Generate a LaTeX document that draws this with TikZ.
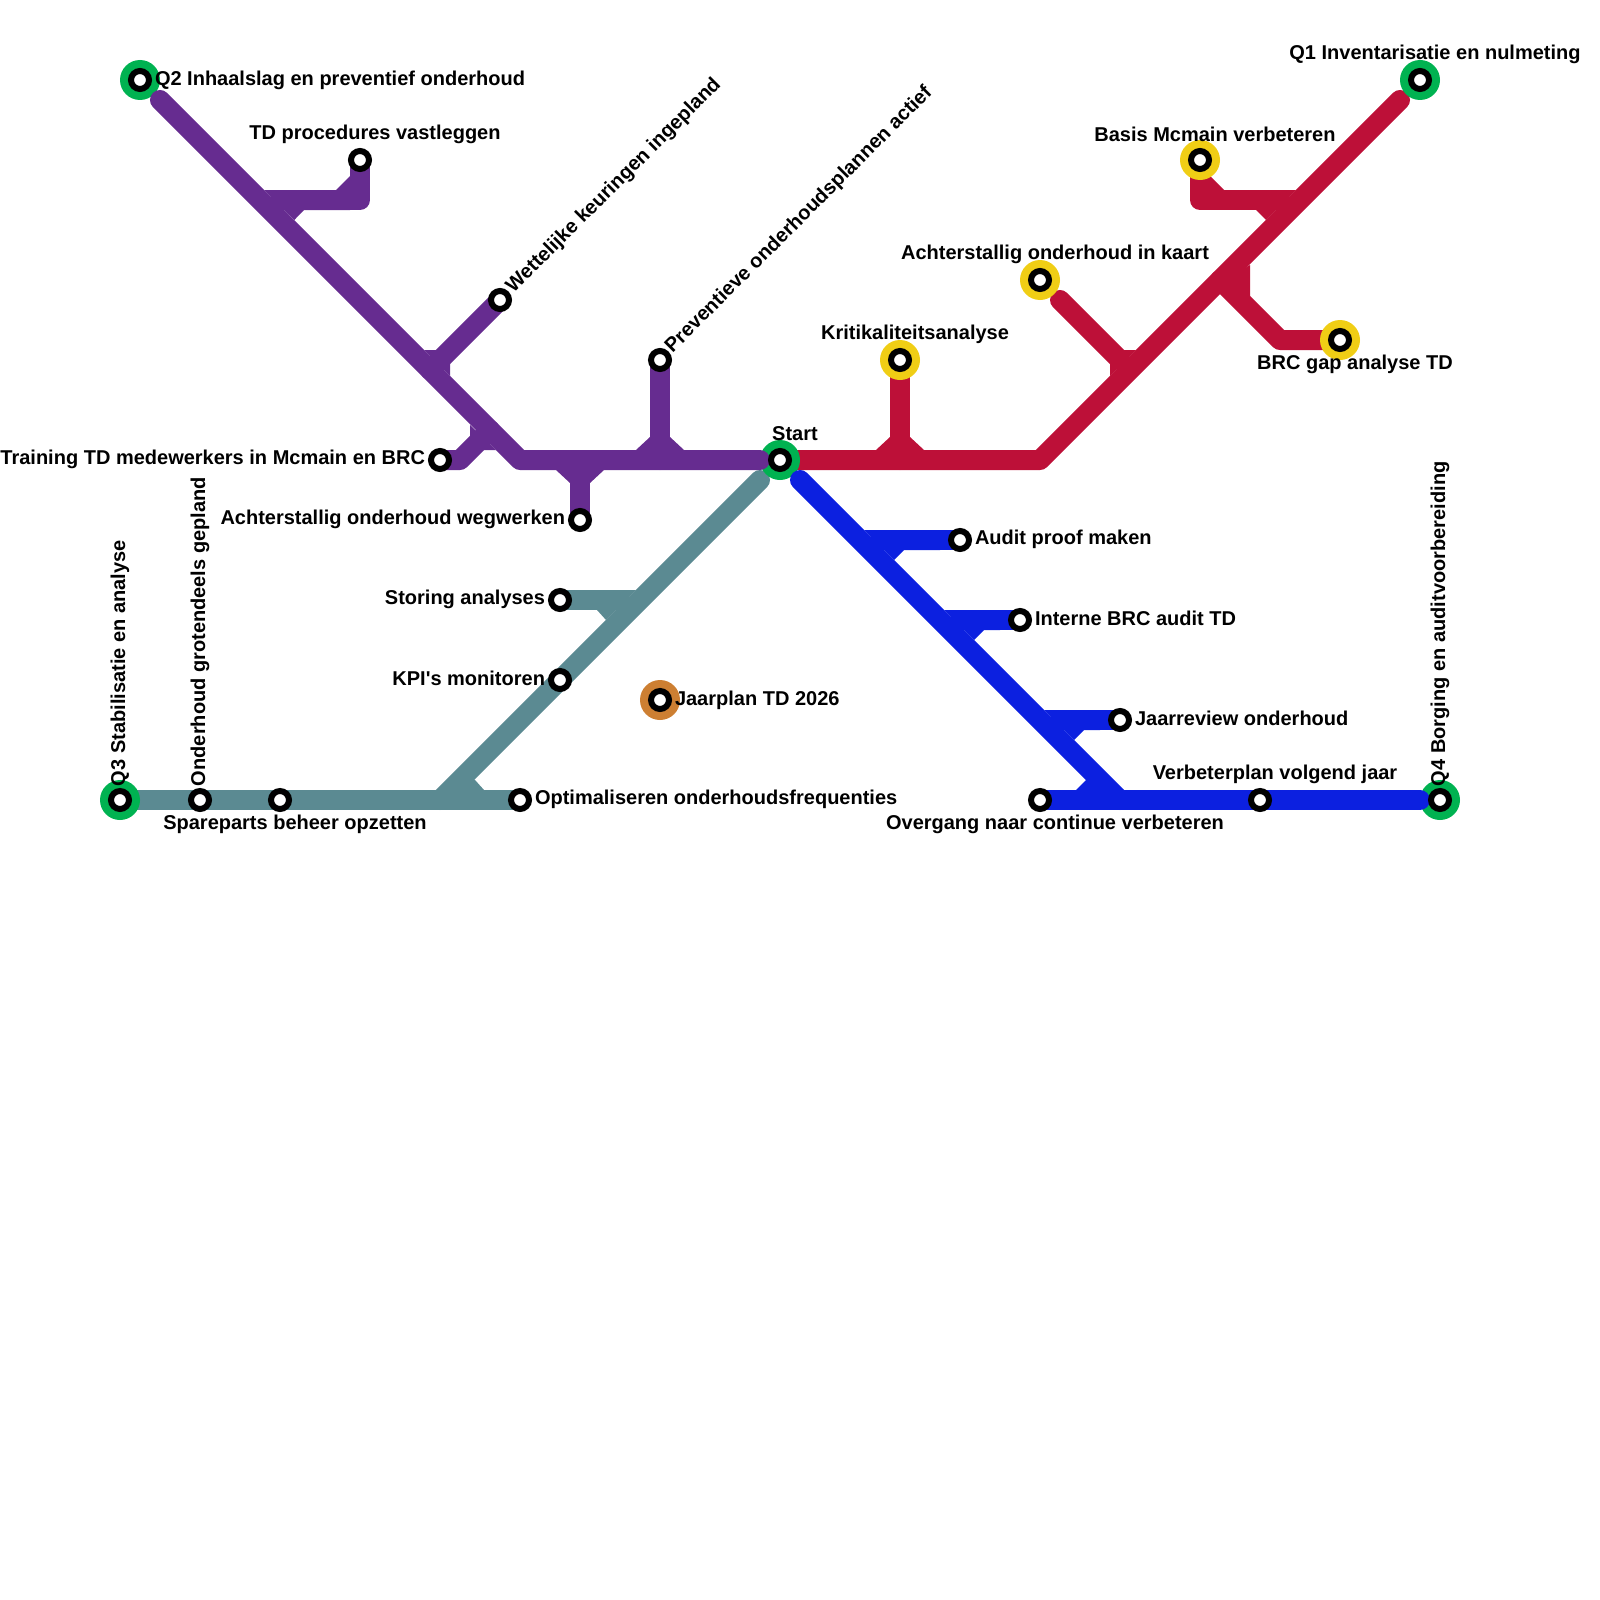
\documentclass[tikz,border=0pt]{standalone}
\usepackage{fontspec}
\setmainfont{Liberation Sans}[BoldFont={Liberation Sans Bold}]
\pgfdeclarelayer{under}
\pgfdeclarelayer{halolayer}
\pgfdeclarelayer{over}
\pgfsetlayers{under,halolayer,over,main}
\definecolor{cpurple}{HTML}{662C90}
\definecolor{cred}{HTML}{BD1038}
\definecolor{cteal}{HTML}{5B8A92}
\definecolor{cblue}{HTML}{0C20E0}
\definecolor{cgreen}{HTML}{00B251}
\definecolor{cyellow}{HTML}{F0CE15}
\definecolor{cbronze}{HTML}{CD7F32}
\tikzset{
  metro/.style={line width=20pt,line cap=round,line join=round},
  ring/.style={circle,draw=black,fill=white,line width=6pt,minimum size=18pt,inner sep=0pt,outer sep=0pt},
  halo/.style={circle,fill=#1,minimum size=40pt,inner sep=0pt,outer sep=0pt},
  txt/.style={font=\fontsize{20}{22}\selectfont\bfseries,text=black,inner sep=0pt,outer sep=0pt},
}
\begin{document}
\begin{tikzpicture}[x=1pt,y=-1pt]
\useasboundingbox (0,0) rectangle (1600,1600);
% stations
\node[ring] (start) at (780,460) {};
\node[ring] (q1) at (1420,80) {};
\node[ring] (q2) at (140,80) {};
\node[ring] (q3) at (120,800) {};
\node[ring] (q4) at (1440,800) {};
\node[ring] (tdproc) at (360,160) {};
\node[ring] (wett) at (500,300) {};
\node[ring] (train) at (440,460) {};
\node[ring] (achtw) at (580,520) {};
\node[ring] (prev) at (660,360) {};
\node[ring] (krit) at (900,360) {};
\node[ring] (achtk) at (1040,280) {};
\node[ring] (basis) at (1200,160) {};
\node[ring] (brc) at (1340,340) {};
\node[ring] (audit) at (960,540) {};
\node[ring] (intern) at (1020,620) {};
\node[ring] (review) at (1120,720) {};
\node[ring] (overg) at (1040,800) {};
\node[ring] (verb) at (1260,800) {};
\node[ring] (stor) at (560,600) {};
\node[ring] (kpi) at (560,680) {};
\node[ring] (jaarplan) at (660,700) {};
\node[ring] (onderh) at (200,800) {};
\node[ring] (spare) at (280,800) {};
\node[ring] (optim) at (520,800) {};
% free ends and bends
\coordinate (pA) at (160,100);
\coordinate (pB) at (520,460);
\coordinate (pC) at (760,460);
\coordinate (pD) at (360,200);
\coordinate (pE) at (280,200);
\coordinate (pF) at (430,370);
\coordinate (pG) at (460,460);
\coordinate (pH) at (490,430);
\coordinate (pI) at (580,460);
\coordinate (pJ) at (660,460);
\coordinate (rA) at (1040,460);
\coordinate (rB) at (1400,100);
\coordinate (rC) at (1060,300);
\coordinate (rD) at (1120,360);
\coordinate (rE) at (1200,200);
\coordinate (rF) at (1280,200);
\coordinate (rG) at (1280,340);
\coordinate (rH) at (1220,280);
\coordinate (rI) at (900,460);
\coordinate (tA) at (760,480);
\coordinate (tB) at (440,800);
\coordinate (tC) at (620,600);
\coordinate (bA) at (800,480);
\coordinate (bB) at (1120,800);
\coordinate (bC) at (880,540);
\coordinate (bD) at (960,620);
\coordinate (bE) at (1060,720);
% halos
\begin{pgfonlayer}{halolayer}
\node[halo=cgreen] (hstart) at (start) {};
\node[halo=cgreen] (hq1) at (q1) {};
\node[halo=cgreen] (hq2) at (q2) {};
\node[halo=cgreen] (hq3) at (q3) {};
\node[halo=cgreen] (hq4) at (q4) {};
\node[halo=cyellow] (hkrit) at (krit) {};
\node[halo=cyellow] (hachtk) at (achtk) {};
\node[halo=cyellow] (hbasis) at (basis) {};
\node[halo=cyellow] (hbrc) at (brc) {};
\node[halo=cbronze] (hjaar) at (jaarplan) {};
\end{pgfonlayer}
% lines under the halos
\begin{pgfonlayer}{under}
\draw[metro,cred] (start.center) -- (rA) -- (rB);
\draw[metro,cred] (krit.center) -- (rI);
\draw[metro,cred] (rC) -- (rD);
\draw[metro,cred] (basis.center) -- (rE) -- (rF);
\draw[metro,cred] (brc.center) -- (rG) -- (rH);
\fill[cred] (890,437) -- (876,450) -- (924,450) -- (910,437) -- cycle;
\fill[cred] (1124,350) -- (1136,350) -- (1110,376) -- (1110,364) -- cycle;
\fill[cred] (1210,176) -- (1224,190) -- (1210,190) -- cycle;
\fill[cred] (1256,210) -- (1266,220) -- (1296,190) -- (1250,190) -- cycle;
\fill[cred] (1250,265) -- (1250,296) -- (1221,294) -- (1225,280) -- cycle;
\draw[metro,cteal] (q3.center) -- (optim.center);
\draw[metro,cteal] (tA) -- (tB);
\draw[metro,cteal] (stor.center) -- (tC);
\fill[cteal] (597,610) -- (606,620) -- (636,590) -- (590,590) -- cycle;
\fill[cteal] (474.6,779.5) -- (484,790) -- (455,790) -- cycle;
\end{pgfonlayer}
% lines over the halos
\begin{pgfonlayer}{over}
\draw[metro,cpurple] (pA) -- (pB) -- (pC);
\draw[metro,cpurple] (tdproc.center) -- (pD) -- (pE);
\draw[metro,cpurple] (wett.center) -- (pF);
\draw[metro,cpurple] (train.center) -- (pG) -- (pH);
\draw[metro,cpurple] (achtw.center) -- (pI);
\draw[metro,cpurple] (prev.center) -- (pJ);
\fill[cpurple] (350,176) -- (336,190) -- (350,190) -- cycle;
\fill[cpurple] (264,190) -- (350,190) -- (350,210) -- (304,210) -- (294.3,220) -- cycle;
\fill[cpurple] (424,350) -- (437,350) -- (450,363) -- (450,376) -- cycle;
\fill[cpurple] (470,425) -- (470,437) -- (483,450) -- (496,450) -- cycle;
\fill[cpurple] (650,437) -- (636,450) -- (684,450) -- (670,437) -- cycle;
\fill[cpurple] (570,483) -- (556,470) -- (604,470) -- (590,483) -- cycle;
\draw[metro,cblue] (bA) -- (bB);
\draw[metro,cblue] (overg.center) -- (1420,800);
\draw[metro,cblue] (audit.center) -- (bC);
\draw[metro,cblue] (intern.center) -- (bD);
\draw[metro,cblue] (review.center) -- (bE);
\fill[cblue] (864,530) -- (940,530) -- (940,550) -- (904,550) -- (894,560) -- cycle;
\fill[cblue] (944,610) -- (1000,610) -- (1000,630) -- (984,630) -- (974,640) -- cycle;
\fill[cblue] (1044,710) -- (1100,710) -- (1100,730) -- (1084,730) -- (1074,740) -- cycle;
\fill[cblue] (1076,790) -- (1086,780) -- (1124,790) -- cycle;
\end{pgfonlayer}
% labels
\node[txt,anchor=west] (lq2) at (155,80) {Q2 Inhaalslag en preventief onderhoud};
\node[txt] (ltd) at (375,134) {TD procedures vastleggen};
\node[txt,anchor=west,rotate=45] (lwett) at (510,290) {Wettelijke keuringen ingepland};
\node[txt,anchor=west,rotate=45] (lprev) at (669,350) {Preventieve onderhoudsplannen actief};
\node[txt,anchor=east] (ltrain) at (425,459) {Training TD medewerkers in Mcmain en BRC};
\node[txt,anchor=east] (lachtw) at (565,519) {Achterstallig onderhoud wegwerken};
\node[txt] (lstart) at (795,434) {Start};
\node[txt] (lkrit) at (915,334) {Kritikaliteitsanalyse};
\node[txt] (lachtk) at (1055,254) {Achterstallig onderhoud in kaart};
\node[txt] (lbasis) at (1215,134) {Basis Mcmain verbeteren};
\node[txt] (lq1) at (1435,54) {Q1 Inventarisatie en nulmeting};
\node[txt] (lbrc) at (1355,364) {BRC gap analyse TD};
\node[txt,anchor=west] (laudit) at (975,539) {Audit proof maken};
\node[txt,anchor=west] (lintern) at (1035,618) {Interne BRC audit TD};
\node[txt,anchor=west] (lreview) at (1135,718) {Jaarreview onderhoud};
\node[txt] (lverb) at (1275,774) {Verbeterplan volgend jaar};
\node[txt] (lover) at (1055,824) {Overgang naar continue verbeteren};
\node[txt,anchor=west,rotate=90] (lq4) at (1440,786) {Q4 Borging en auditvoorbereiding};
\node[txt,anchor=west,rotate=90] (lq3) at (120,786) {Q3 Stabilisatie en analyse};
\node[txt,anchor=west,rotate=90] (lond) at (200,786) {Onderhoud grotendeels gepland};
\node[txt] (lspare) at (295,824) {Spareparts beheer opzetten};
\node[txt,anchor=west] (lopt) at (535,799) {Optimaliseren onderhoudsfrequenties};
\node[txt,anchor=east] (lstor) at (545,599) {Storing analyses};
\node[txt,anchor=east] (lkpi) at (545,678) {KPI\textquotesingle s monitoren};
\node[txt,anchor=west] (ljaar) at (675,700) {Jaarplan TD 2026};
\end{tikzpicture}
\end{document}
